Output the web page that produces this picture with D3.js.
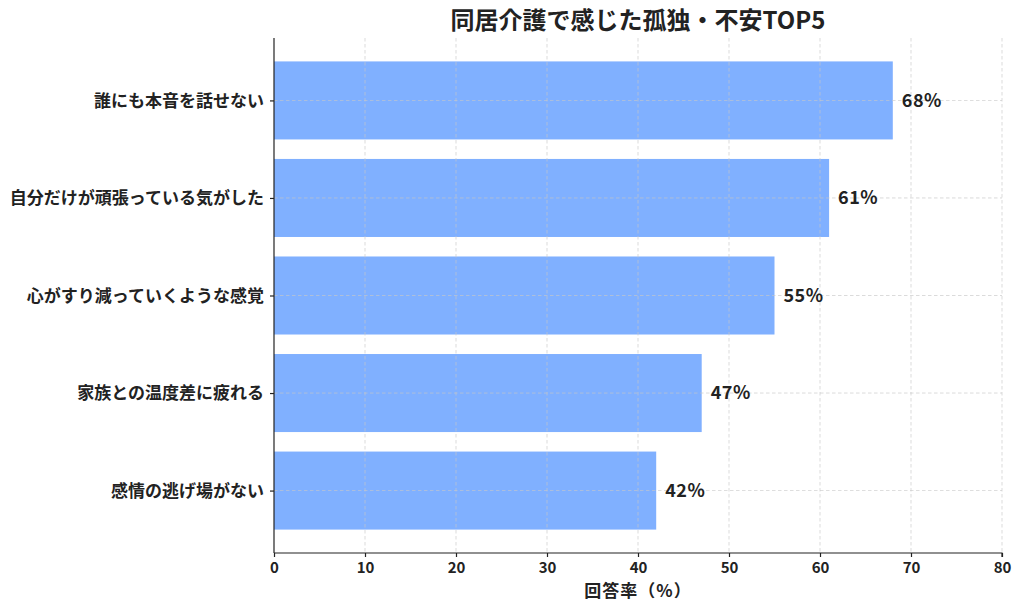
<!DOCTYPE html>
<html><head><meta charset="utf-8">
<script src="https://cdn.jsdelivr.net/npm/d3@7"></script>
<style>
body{margin:0;background:#fff;}
text{font-family:"Noto Sans CJK JP","Noto Sans",sans-serif;font-weight:700;fill:#222;}
</style></head>
<body><svg id="c" width="1024" height="610"></svg>
<script>
const categories = ["誰にも本音を話せない","自分だけが頑張っている気がした","心がすり減っていくような感覚","家族との温度差に疲れる","感情の逃げ場がない"];
const values = [68,61,55,47,42];
const xTicks = [0,10,20,30,40,50,60,70,80];
const title = "同居介護で感じた孤独・不安TOP5";
const xLabel = "回答率（%）";

const svg = d3.select("#c");
const L=274,R=1002,T=38,B=553;
const x = d3.scaleLinear().domain([0,80]).range([L,R]);
const y = d3.scaleLinear().domain([-0.64,4.64]).range([T,B]);
const bh = 0.8;

svg.selectAll("rect.bar").data(values).join("rect")
  .attr("x",x(0)).attr("y",(d,i)=>y(i-bh/2))
  .attr("width",d=>x(d)-x(0)).attr("height",(d,i)=>y(i+bh/2)-y(i-bh/2))
  .attr("fill","#80b0ff");

const g = svg.append("g");
g.selectAll("line.vx").data(xTicks.slice(1)).join("line")
  .attr("x1",d=>x(d)).attr("x2",d=>x(d)).attr("y1",T).attr("y2",B)
  .attr("stroke","#c8c8c8").attr("stroke-width",0.8).attr("stroke-dasharray","3.5,2.5").attr("opacity",0.8);
g.selectAll("line.hy").data(categories).join("line")
  .attr("x1",L).attr("x2",R).attr("y1",(d,i)=>y(i)).attr("y2",(d,i)=>y(i))
  .attr("stroke","#c8c8c8").attr("stroke-width",0.8).attr("stroke-dasharray","3.5,2.5").attr("opacity",0.8);

const xa = svg.append("g").attr("transform",`translate(0,${B})`)
  .call(d3.axisBottom(x).tickValues(xTicks).tickSize(4).tickPadding(5).tickFormat(d3.format("d")));
xa.select(".domain").attr("stroke","#222").attr("stroke-width",1.2).attr("d",`M${L},0H${R}V4`);
xa.selectAll(".tick line").attr("stroke","#222").attr("stroke-width",1.2);
xa.selectAll(".tick text").style("font-size","15px").attr("fill","#222");

const ya = svg.append("g").attr("transform",`translate(${L},0)`)
  .call(d3.axisLeft(y).tickValues(d3.range(categories.length)).tickSize(4).tickPadding(6).tickFormat(i=>categories[i]));
ya.select(".domain").attr("stroke","#222").attr("stroke-width",1.2).attr("d",`M0,${T}V${B}`);
ya.selectAll(".tick line").attr("stroke","#222").attr("stroke-width",1.2);
ya.selectAll(".tick text").style("font-size","17px").attr("fill","#222").attr("dy","0.35em");

svg.selectAll("text.val").data(values).join("text")
  .attr("x",d=>x(d)+9).attr("y",(d,i)=>y(i)).attr("dy","0.35em")
  .style("font-size","18px").style("letter-spacing","0.5px").attr("fill","#333").text(d=>d+"%");

svg.append("text").attr("x",(L+R)/2).attr("y",29).attr("text-anchor","middle")
  .style("font-size","24px").attr("fill","#333").text(title);
svg.append("text").attr("x",(L+R)/2).attr("y",597).attr("text-anchor","middle")
  .style("font-size","17px").style("letter-spacing","1px").text(xLabel);
</script></body></html>
